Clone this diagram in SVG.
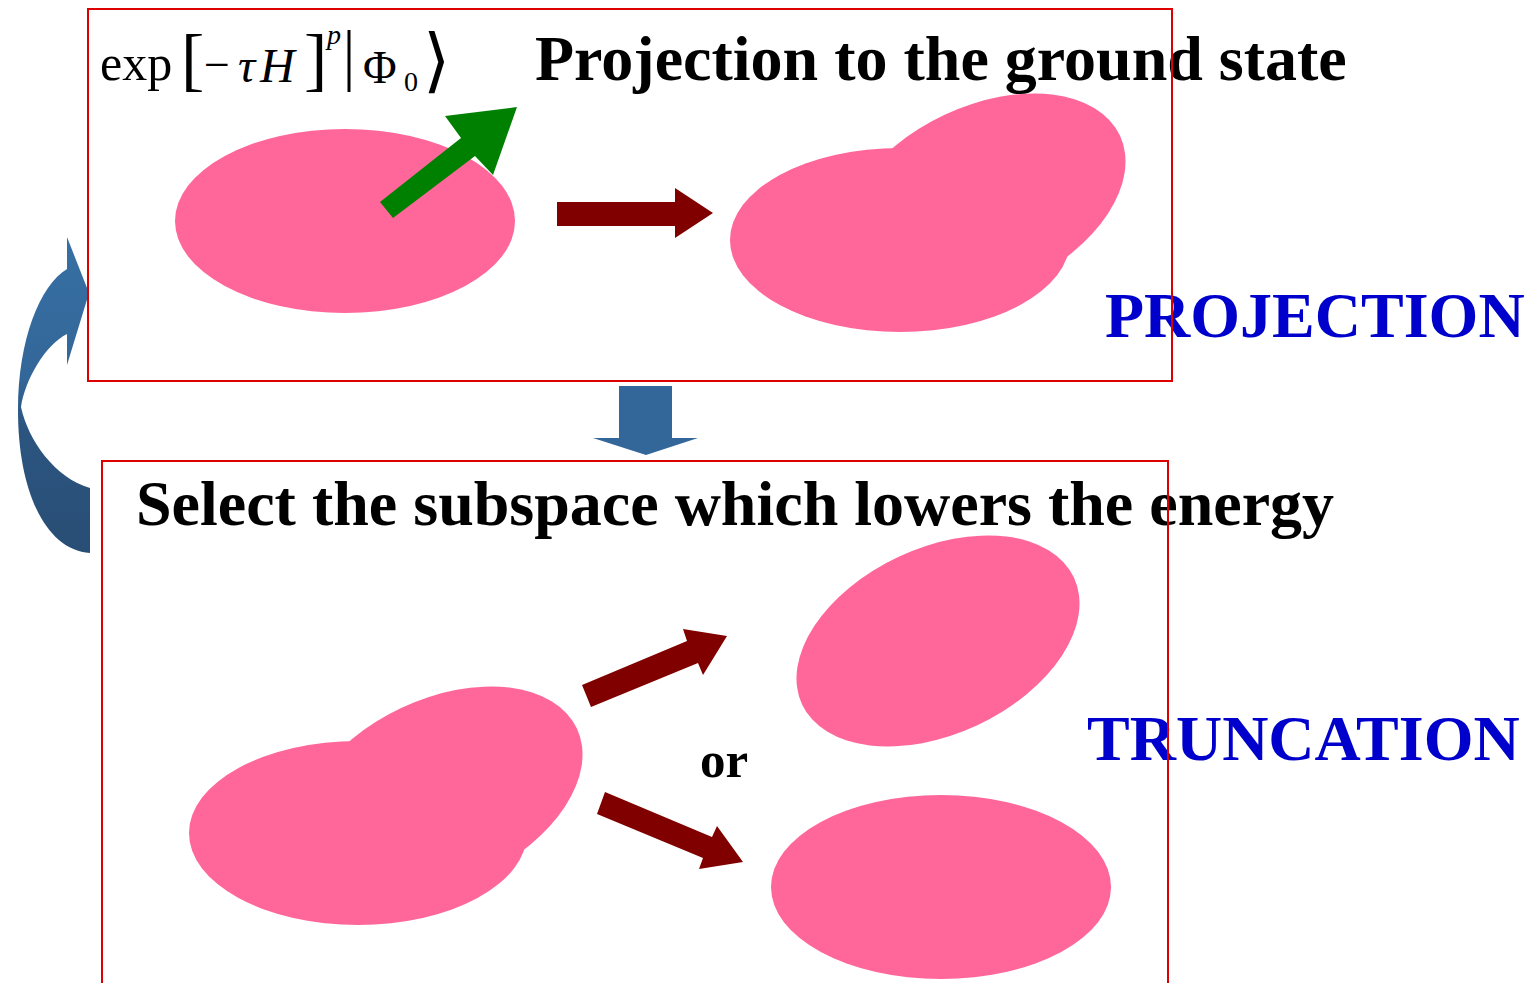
<svg xmlns="http://www.w3.org/2000/svg" width="1540" height="983" viewBox="0 0 1540 983">
<defs>
<style>
.pink{fill:#FF6699}
.dred{fill:#800000}
.box{fill:none;stroke:#DD0000;stroke-width:2}
.title{font-family:"Liberation Serif","Times New Roman",serif;font-weight:bold;font-size:64px;fill:#000}
.small{font-size:51px}
.label{font-family:"Liberation Serif","Times New Roman",serif;font-weight:bold;font-size:64px;fill:#0000CC}
.math{font-family:"Liberation Serif","Times New Roman",serif;fill:#000}
</style>
<linearGradient id="blueGrad" x1="0" y1="0" x2="0" y2="1">
<stop offset="0" stop-color="#3770A3"/>
<stop offset="0.45" stop-color="#336699"/>
<stop offset="0.6" stop-color="#2B5580"/>
<stop offset="1" stop-color="#294E75"/>
</linearGradient>
</defs>
<rect width="1540" height="983" fill="#fff"/>

<g id="state-initial">
<ellipse class="pink" cx="345" cy="221" rx="170" ry="92"/>
</g>
<g id="state-projected">
<ellipse class="pink" cx="900" cy="240" rx="170" ry="92"/>
<ellipse class="pink" cx="984" cy="199" rx="150" ry="93" transform="rotate(-25 984 199)"/>
</g>
<g id="state-before-truncation">
<ellipse class="pink" cx="358" cy="833" rx="169" ry="92"/>
<ellipse class="pink" cx="441" cy="792" rx="150" ry="93" transform="rotate(-25 441 792)"/>
</g>
<g id="state-option-a">
<ellipse class="pink" cx="938" cy="641" rx="150" ry="93" transform="rotate(-25 938 641)"/>
</g>
<g id="state-option-b">
<ellipse class="pink" cx="941" cy="887" rx="170" ry="92"/>
</g>

<g id="connectors">
<polygon id="green-vector" fill="#008000" points="380,202 461,138 445,116 517,107 493,175 475,156 393,218"/>
<polygon class="dred" points="557,202 675,202 675,188 713,213 675,238 675,226 557,226"/>
<polygon class="dred" points="582,685 687,641 683,629 727,636 703,675 698,663 591,707"/>
<polygon class="dred" points="605,792 712,837 717,826 743,862 699,869 703,858 597,814"/>
<polygon fill="#336699" points="619,386 672,386 672,438 698,438 646,455 593,438 619,438"/>
<path fill="url(#blueGrad)" d="M90 553 C45 550 18 490 18 410 C18 340 40 285 67 269 L67 237 L89 293 L67 365 L67 334 C45 345 25 380 21 407 C28 440 55 478 90 488 Z"/>
</g>

<g id="formula" class="math">
<text x="100" y="80" font-size="50">exp</text>
<text x="181" y="83" font-size="70">[</text>
<text x="204" y="80" font-size="46">−</text>
<text x="238" y="82" font-size="48" font-style="italic">τ</text>
<text x="260" y="82" font-size="48" font-style="italic">H</text>
<text x="304" y="83" font-size="70">]</text>
<text x="327" y="44" font-size="28" font-style="italic">p</text>
<line x1="349" y1="30" x2="349" y2="92" stroke="#000" stroke-width="3"/>
<text x="363" y="83" font-size="46">Φ</text>
<text x="404" y="91" font-size="28">0</text>
<text x="423" y="84" font-size="70" font-family="DejaVu Serif">⟩</text>
</g>

<g id="texts">
<text class="title" x="535" y="80">Projection to the ground state</text>
<text class="title" x="136" y="525">Select the subspace which lowers the energy</text>
<text class="title small" x="700" y="777">or</text>
<text class="label" x="1105" y="337">PROJECTION</text>
<text class="label" x="1087" y="760">TRUNCATION</text>
</g>

<g id="boxes">
<rect id="projection-box" class="box" x="88" y="9" width="1084" height="372"/>
<rect id="truncation-box" class="box" x="102" y="461" width="1066" height="540"/>
</g>
</svg>
